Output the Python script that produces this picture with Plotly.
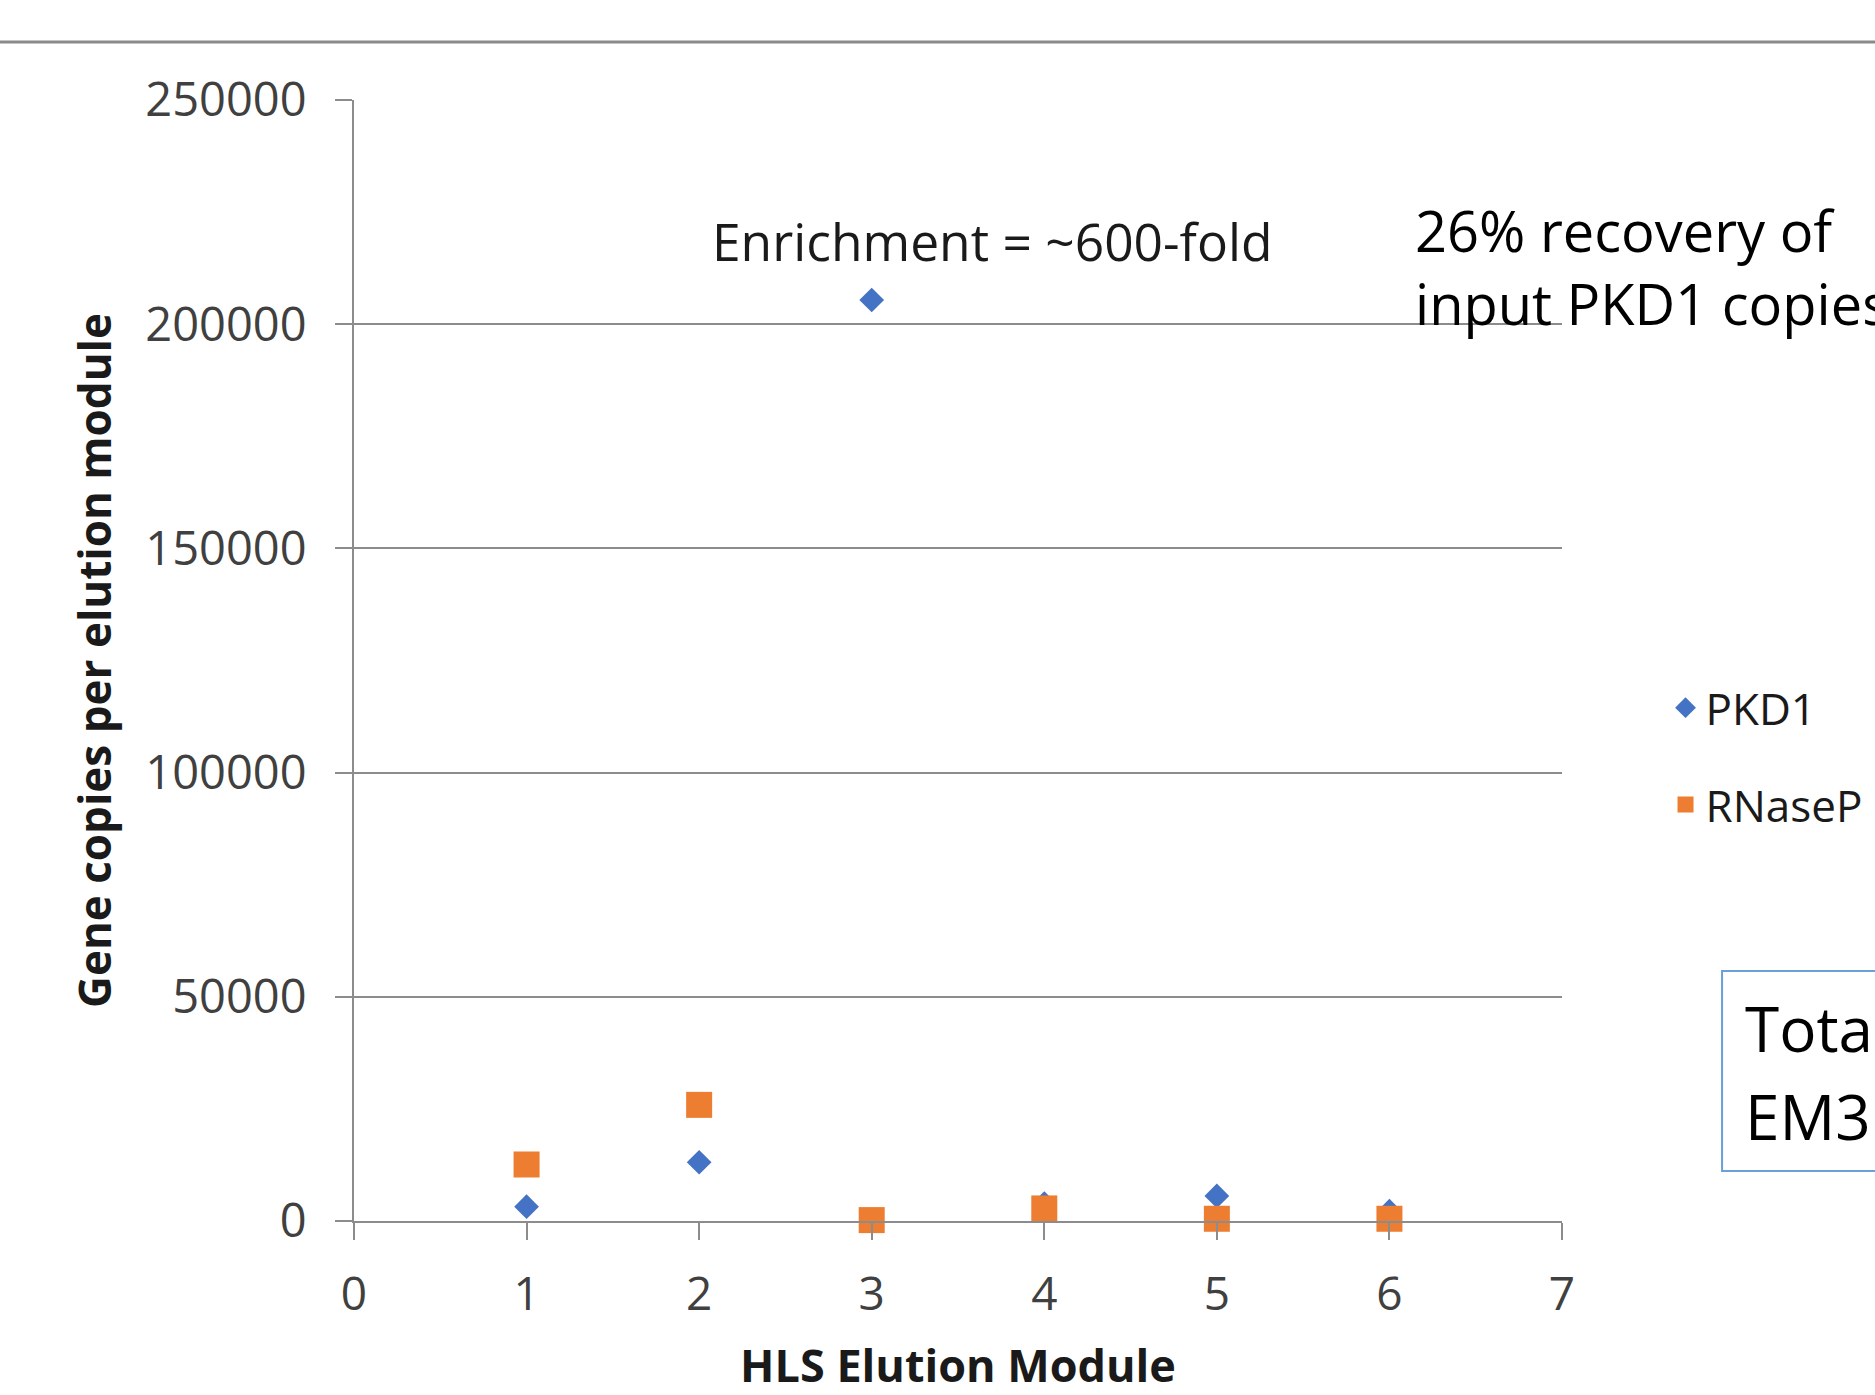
import plotly.graph_objects as go

# ---- data ----
modules = [1, 2, 3, 4, 5, 6]
pkd1 = [3200, 13100, 205400, 3900, 5600, 2200]
rnasep = [12600, 25900, 200, 2800, 500, 500]
series_names = ["PKD1", "RNaseP"]
y_ticks = [0, 50000, 100000, 150000, 200000, 250000]
x_ticks = [0, 1, 2, 3, 4, 5, 6, 7]

FONT = "Open Sans"
GRID = "#8c8c8c"

fig = go.Figure()
fig.add_trace(go.Scatter(
    x=modules, y=pkd1, mode="markers", name=series_names[0],
    marker=dict(symbol="diamond", size=19, color="#4472c4"),
    legend="legend", cliponaxis=False,
))
fig.add_trace(go.Scatter(
    x=modules, y=rnasep, mode="markers", name=series_names[1],
    marker=dict(symbol="square", size=26, color="#ed7d31"),
    legend="legend2", cliponaxis=False,
))

fig.update_layout(
    width=1875, height=1395,
    margin=dict(l=354, r=313, t=100, b=174, autoexpand=False),
    paper_bgcolor="white", plot_bgcolor="white",
    font=dict(family=FONT, color="#000000"),
    showlegend=True,
    legend=dict(x=1.0857, y=0.4576, xanchor="left", yanchor="middle",
                font=dict(size=44, family=FONT, color="#1a1a1a"),
                bgcolor="rgba(0,0,0,0)", borderwidth=0),
    legend2=dict(x=1.0857, y=0.3711, xanchor="left", yanchor="middle",
                 font=dict(size=44, family=FONT, color="#1a1a1a"),
                 bgcolor="rgba(0,0,0,0)", borderwidth=0),
    xaxis=dict(
        range=[0, 7], tickmode="array", tickvals=x_ticks,
        ticktext=[str(v) for v in x_ticks],
        showgrid=False, zeroline=False,
        showline=True, linecolor=GRID, linewidth=2,
        ticks="outside", ticklen=17, tickwidth=2, tickcolor=GRID,
        ticklabelstandoff=15,
        tickfont=dict(size=46, family=FONT, color="#404040"),
        title=dict(text="<b>HLS Elution Module</b>", standoff=58,
                   font=dict(size=45, family=FONT, color="#1a1a1a")),
    ),
    yaxis=dict(
        range=[0, 250000], tickmode="array", tickvals=y_ticks,
        ticktext=[str(v) for v in y_ticks],
        showgrid=True, gridcolor=GRID, gridwidth=1.5,
        zeroline=False,
        showline=True, linecolor=GRID, linewidth=2,
        ticks="outside", ticklen=17, tickwidth=1.5, tickcolor=GRID,
        ticklabelstandoff=19,
        tickfont=dict(size=47, family=FONT, color="#404040"),
        title=dict(text="<b>Gene copies per elution module</b>", standoff=20,
                   font=dict(size=44, family=FONT, color="#1a1a1a")),
    ),
    shapes=[
        # horizontal rule across the top of the slide
        dict(type="line", xref="paper", yref="paper", x0=-0.4, x1=1.3,
             y0=1.0517, y1=1.0517, line=dict(color="#8a8a8a", width=3)),
        # partially visible text box
        dict(type="rect", xref="paper", yref="paper", x0=1.1325, x1=1.35,
             y0=0.0446, y1=0.223, line=dict(color="#6a9fd8", width=2),
             fillcolor="rgba(0,0,0,0)"),
    ],
    annotations=[
        dict(text="Enrichment = ~600-fold", x=2.06, y=218500, xref="x", yref="y",
             xanchor="left", yanchor="middle", showarrow=False,
             font=dict(size=51.5, family=FONT, color="#1a1a1a")),
        dict(text="26% recovery of<br>input PKD1 copies", x=0.877, y=0.8515,
             xref="paper", yref="paper", xanchor="left", yanchor="middle",
             align="left", showarrow=False,
             font=dict(size=56, family=FONT, color="#000000")),
        dict(text="Tota", x=1.1498, y=(1221 - 1028) / 1121, xref="paper", yref="paper",
             xanchor="left", yanchor="middle", showarrow=False,
             font=dict(size=62, family=FONT, color="#000000")),
        dict(text="EM3", x=1.1498, y=(1221 - 1116) / 1121, xref="paper", yref="paper",
             xanchor="left", yanchor="middle", showarrow=False,
             font=dict(size=62, family=FONT, color="#000000")),
    ],
)

fig.write_html("out.html")
